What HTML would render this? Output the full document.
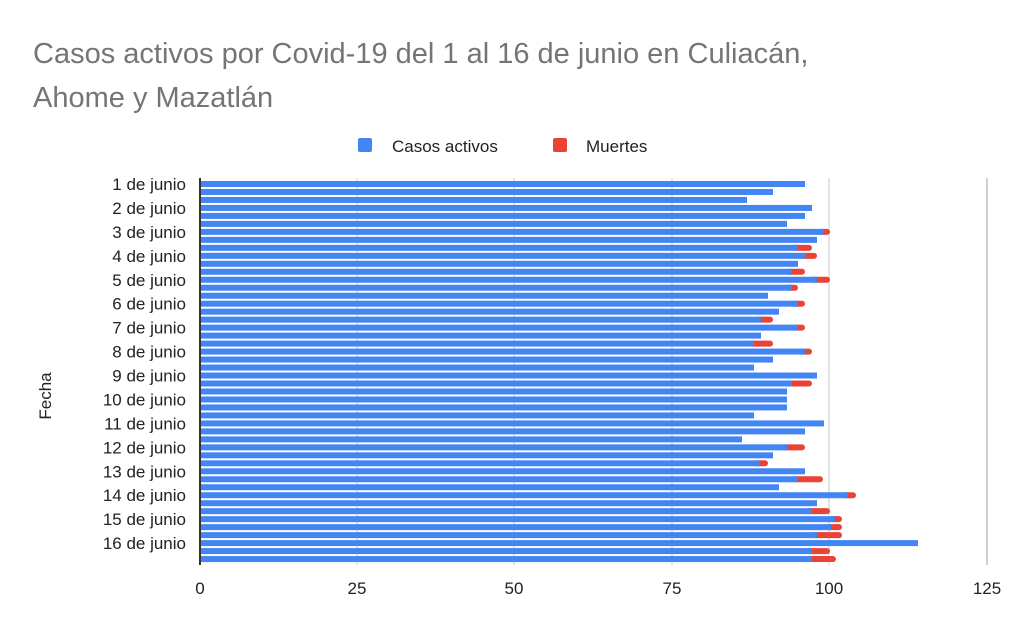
<!DOCTYPE html>
<html><head><meta charset="utf-8"><style>
body{margin:0;background:#fff;}
svg{display:block;font-family:"Liberation Sans",Arial,sans-serif;}
</style></head><body>
<svg id="c" width="1019" height="630" viewBox="0 0 1019 630">
<rect width="1019" height="630" fill="#fff"/>
<text x="33" y="63" font-size="29" fill="#757575">Casos activos por Covid-19 del 1 al 16 de junio en Culiacán,</text>
<text x="33" y="107" font-size="29" fill="#757575">Ahome y Mazatlán</text>
<rect x="358" y="138" width="14" height="14" rx="2" fill="#4285f4"/>
<text x="392" y="152" font-size="17" fill="#222">Casos activos</text>
<rect x="553" y="138" width="14" height="14" rx="2" fill="#ea4335"/>
<text x="586" y="152" font-size="17" fill="#222">Muertes</text>
<text transform="translate(51,396) rotate(-90)" font-size="17" text-anchor="middle" fill="#222">Fecha</text>
<g id="grid"></g>
<g id="bars"></g>
<rect x="199" y="178" width="2" height="387" fill="#333"/>
<g id="labels" font-size="17" fill="#222"></g>
</svg>
<script>
var ns="http://www.w3.org/2000/svg";
function el(t,a,p,txt){var e=document.createElementNS(ns,t);for(var k in a)e.setAttribute(k,a[k]);if(txt!==undefined)e.textContent=txt;document.getElementById(p).appendChild(e);}
var xs=[200,357,514,672,829,987],tl=["0","25","50","75","100","125"];
for(var i=1;i<6;i++)el("rect",{x:xs[i]-1,y:178,width:2,height:387,fill:i==5?"#d0d0d0":"#e4e4e4"},"grid");
for(var i=0;i<6;i++)el("text",{x:xs[i],y:594,"text-anchor":"middle"},"labels",tl[i]);
var d=[[805],[773],[747],[812],[805],[787],[824,830],[817],[798,812],[806,817],[798],[792,805],[817,830],[792,798],[768],[798,805],[779],[761,773],[798,805],[761],[754,773],[805,812],[773],[754],
[817],[792,812],[787],[787],[787],[754],[824],[805],[742],[787,805],[773],[760,768],[805],[798,823],[779],[848,856],[817],[812,830],[835,842],[831,842],[817,842],[918],[812,830],[812,836]];
for(var i=0;i<48;i++){var y=181+i*7.98;
 if(d[i][1])el("rect",{x:d[i][0]-6,y:y,width:d[i][1]-d[i][0]+6,height:6,rx:3,fill:"#ea4335"},"bars");
 el("rect",{x:201,y:y,width:d[i][0]-201,height:6,fill:"#4285f4"},"bars");}
for(var i=0;i<16;i++)el("text",{x:186,y:190+i*23.94,"text-anchor":"end"},"labels",(i+1)+" de junio");
</script>
</body></html>
